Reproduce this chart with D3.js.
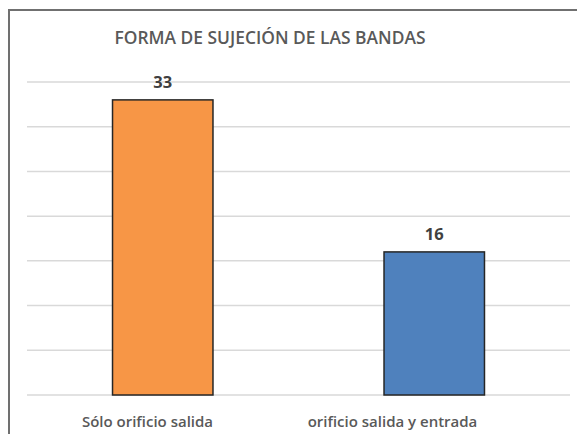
<html>
<head>
<meta charset="utf-8">
<script src="https://cdnjs.cloudflare.com/ajax/libs/d3/7.8.5/d3.min.js"></script>
</head>
<body style="margin: 0; background: #fff;">
<script>
var title = "FORMA DE SUJECIÓN DE LAS BANDAS";
var categories = ["Sólo orificio salida", "orificio salida y entrada"];
var values = [33, 16];
var barColors = ["#F79646", "#4F81BD"];
var yTicks = [0, 5, 10, 15, 20, 25, 30, 35];

var width = 577, height = 434;

var svg = d3.select("body").append("svg")
    .attr("width", width)
    .attr("height", height)
    .style("font-family", "'Open Sans', sans-serif");

// chart frame (runs off the right and bottom edge)
svg.append("rect")
    .attr("x", 9).attr("y", 10)
    .attr("width", 600).attr("height", 460)
    .attr("fill", "#fff")
    .attr("stroke", "#707070")
    .attr("stroke-width", 2);

var x = d3.scaleBand()
    .domain(categories)
    .range([27, 570])
    .paddingInner(0.63)
    .paddingOuter(0.315);

// labels sit on a slightly narrower band than the bars
var xLabel = d3.scaleBand()
    .domain(categories)
    .range([25, 515]);

var y = d3.scaleLinear()
    .domain([0, 35])
    .range([395, 82]);

svg.append("g")
    .selectAll("line")
    .data(yTicks)
    .enter().append("line")
    .attr("x1", 27).attr("x2", 570)
    .attr("y1", d => y(d)).attr("y2", d => y(d))
    .attr("stroke", "#d9d9d9")
    .attr("stroke-width", 1.5);

svg.append("text")
    .attr("x", (xLabel.range()[0] + xLabel.range()[1]) / 2)
    .attr("y", 44)
    .attr("text-anchor", "middle")
    .attr("fill", "#595959")
    .attr("font-size", 17.4)
    .attr("font-weight", 600)
    .text(title);

svg.append("g")
    .selectAll("rect")
    .data(values)
    .enter().append("rect")
    .attr("x", (d, i) => x(categories[i]))
    .attr("y", d => y(d))
    .attr("width", x.bandwidth())
    .attr("height", d => y(0) - y(d))
    .attr("fill", (d, i) => barColors[i])
    .attr("stroke", "#262626")
    .attr("stroke-width", 1.5);

svg.append("g")
    .selectAll("text")
    .data(values)
    .enter().append("text")
    .attr("x", (d, i) => x(categories[i]) + x.bandwidth() / 2)
    .attr("y", d => y(d) - 12)
    .attr("text-anchor", "middle")
    .attr("fill", "#404040")
    .attr("font-size", 16.5)
    .attr("font-weight", 700)
    .text(d => d);

svg.append("g")
    .selectAll("text")
    .data(categories)
    .enter().append("text")
    .attr("x", d => xLabel(d) + xLabel.bandwidth() / 2)
    .attr("y", 427)
    .attr("text-anchor", "middle")
    .attr("fill", "#595959")
    .attr("font-size", 15)
    .attr("font-weight", 600)
    .text(d => d);
</script>
</body>
</html>
